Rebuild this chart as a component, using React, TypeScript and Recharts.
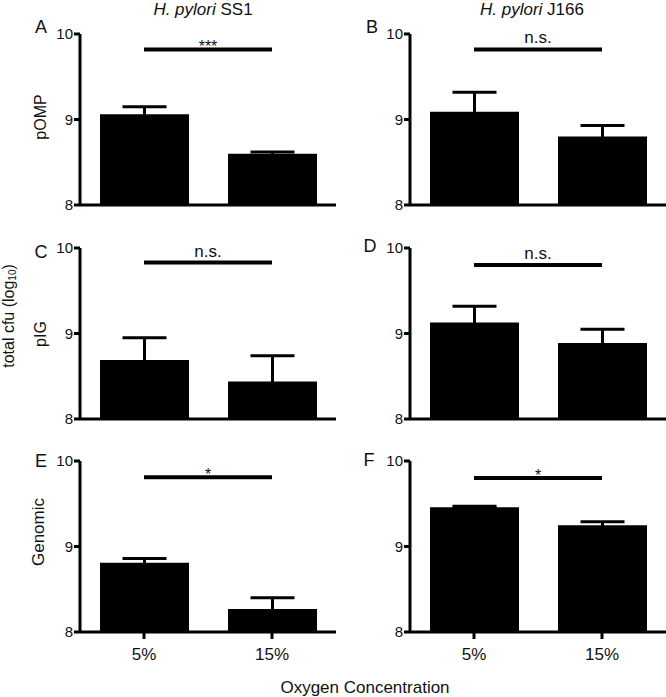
import { BarChart, Bar, XAxis, YAxis, ErrorBar, ReferenceLine } from 'recharts';

const oxygenLevels = ['5%', '15%'];

// H. pylori SS1 (left column)
const pompSS1 = [9.06, 8.6];
const pompSS1Err = [0.09, 0.02];
const pigSS1 = [8.69, 8.44];
const pigSS1Err = [0.26, 0.3];
const genomicSS1 = [8.81, 8.27];
const genomicSS1Err = [0.05, 0.13];

// H. pylori J166 (right column)
const pompJ166 = [9.09, 8.8];
const pompJ166Err = [0.23, 0.13];
const pigJ166 = [9.13, 8.89];
const pigJ166Err = [0.19, 0.16];
const genomicJ166 = [9.46, 9.25];
const genomicJ166Err = [0.01, 0.04];

const sigSS1 = ['***', 'n.s.', '*'];
const sigJ166 = ['n.s.', 'n.s.', '*'];
const sigLevelSS1 = [9.82, 9.83, 9.81];
const sigLevelJ166 = [9.82, 9.8, 9.8];

const yTicks = [8, 9, 10];
const yDomain = [8, 10];

const FONT = '"Liberation Sans", Arial, sans-serif';

const YTick = ({ x, y, payload }: any) => (
  <text x={x} y={y} dy="0.36em" textAnchor="end" fontSize={15} fill="#111" fontFamily={FONT}>
    {payload.value}
  </text>
);

const XTick = ({ x, y, payload }: any) => (
  <text x={x} y={y} dy="0.72em" textAnchor="middle" fontSize={17} fill="#111" fontFamily={FONT}>
    {payload.value}
  </text>
);

interface PanelProps {
  left: number;
  top: number;
  values: number[];
  errs: number[];
  sig: string;
  sigLevel: number;
  showX: boolean;
}

function Panel({ left, top, values, errs, sig, sigLevel, showX }: PanelProps) {
  const data = oxygenLevels.map((name, i) => ({ name, value: values[i], err: errs[i] }));
  const isStar = sig.includes('*');
  return (
    <div style={{ position: 'absolute', left, top }}>
      <BarChart
        width={336}
        height={240}
        data={data}
        margin={{ top: 30, right: 0, bottom: 0, left: 0 }}
        barSize={89}
      >
        <XAxis
          dataKey="name"
          height={39}
          axisLine={{ stroke: '#000', strokeWidth: 3 }}
          tickLine={showX ? { stroke: '#000', strokeWidth: 3 } : false}
          tick={showX ? <XTick /> : false}
          tickSize={7}
          tickMargin={9}
        />
        <YAxis
          width={80}
          domain={yDomain}
          ticks={yTicks}
          interval={0}
          axisLine={{ stroke: '#000', strokeWidth: 3 }}
          tickLine={{ stroke: '#000', strokeWidth: 3 }}
          tick={<YTick />}
          tickSize={6}
          tickMargin={1}
        />
        <Bar dataKey="value" fill="#000" isAnimationActive={false}>
          <ErrorBar dataKey="err" width={22} strokeWidth={3} stroke="#000" isAnimationActive={false} />
        </Bar>
        <ReferenceLine
          segment={[
            { x: oxygenLevels[0], y: sigLevel },
            { x: oxygenLevels[1], y: sigLevel },
          ]}
          stroke="#000"
          strokeWidth={4}
          label={{
            value: sig,
            position: 'top',
            offset: isStar ? -3 : 6,
            fill: '#111',
            fontSize: isStar ? 16 : 17,
          }}
        />
      </BarChart>
    </div>
  );
}

const leftCol = [
  { values: pompSS1, errs: pompSS1Err },
  { values: pigSS1, errs: pigSS1Err },
  { values: genomicSS1, errs: genomicSS1Err },
];
const rightCol = [
  { values: pompJ166, errs: pompJ166Err },
  { values: pigJ166, errs: pigJ166Err },
  { values: genomicJ166, errs: genomicJ166Err },
];
const rowTops = [4, 218, 431];

export default function App() {
  return (
    <div
      style={{
        position: 'absolute',
        left: 0,
        top: 0,
        width: 666,
        height: 697,
        background: '#fff',
        fontFamily: FONT,
        overflow: 'hidden',
      }}
    >
      {leftCol.map((p, i) => (
        <Panel
          key={'l' + i}
          left={0}
          top={rowTops[i]}
          values={p.values}
          errs={p.errs}
          sig={sigSS1[i]}
          sigLevel={sigLevelSS1[i]}
          showX={i === 2}
        />
      ))}
      {rightCol.map((p, i) => (
        <Panel
          key={'r' + i}
          left={330}
          top={rowTops[i]}
          values={p.values}
          errs={p.errs}
          sig={sigJ166[i]}
          sigLevel={sigLevelJ166[i]}
          showX={i === 2}
        />
      ))}
      <svg
        width={666}
        height={697}
        style={{ position: 'absolute', left: 0, top: 0, pointerEvents: 'none' }}
        fontFamily={FONT}
        fill="#111"
      >
        <text x={203} y={15} fontSize={17} textAnchor="middle">
          <tspan fontStyle="italic">H. pylori</tspan> SS1
        </text>
        <text x={532} y={15} fontSize={17} textAnchor="middle">
          <tspan fontStyle="italic">H. pylori</tspan> J166
        </text>
        <text x={365} y={693} fontSize={17} textAnchor="middle">
          Oxygen Concentration
        </text>

        <text x={41} y={33} fontSize={18} textAnchor="middle">A</text>
        <text x={372} y={33} fontSize={18} textAnchor="middle">B</text>
        <text x={41} y={258} fontSize={18} textAnchor="middle">C</text>
        <text x={370} y={252} fontSize={18} textAnchor="middle">D</text>
        <text x={41} y={467} fontSize={18} textAnchor="middle">E</text>
        <text x={369} y={466} fontSize={18} textAnchor="middle">F</text>

        <text transform="translate(46,117) rotate(-90)" fontSize={16} textAnchor="middle">pOMP</text>
        <text transform="translate(46,334) rotate(-90)" fontSize={16} textAnchor="middle">pIG</text>
        <text transform="translate(44,532) rotate(-90)" fontSize={17} textAnchor="middle">Genomic</text>
        <text transform="translate(14,316) rotate(-90)" fontSize={16} textAnchor="middle">
          total cfu (log<tspan fontSize={10} dy={2}>10</tspan>
          <tspan dy={-2}>)</tspan>
        </text>
      </svg>
    </div>
  );
}
